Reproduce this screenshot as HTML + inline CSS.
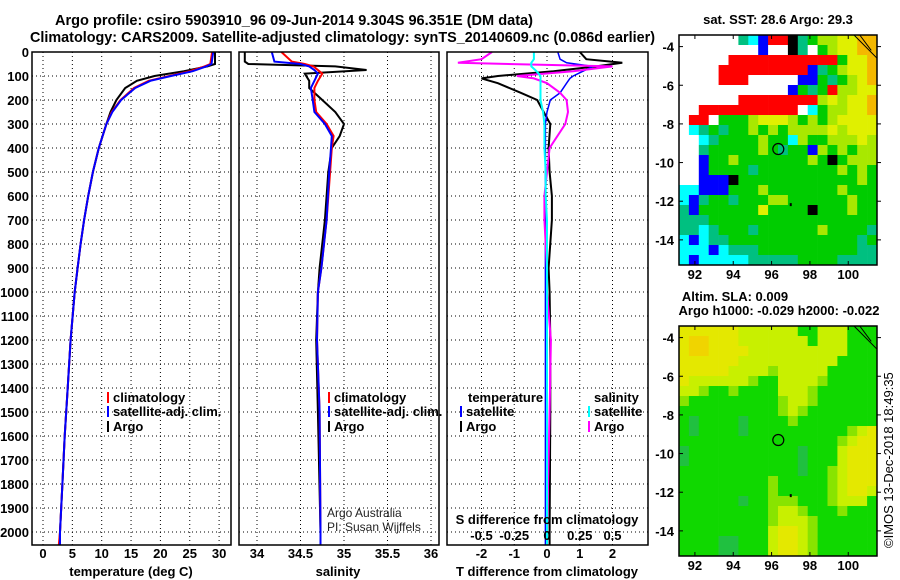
<!DOCTYPE html>
<html><head><meta charset="utf-8"><style>
html,body{margin:0;padding:0;background:#fff;}
svg{display:block;font-family:"Liberation Sans",sans-serif;}
.b{font-weight:bold;font-size:13px;}
</style></head><body>
<svg id="s" width="900" height="580" viewBox="0 0 900 580" xmlns="http://www.w3.org/2000/svg">
<text x="55" y="25" font-size="15" font-weight="bold" textLength="478" lengthAdjust="spacingAndGlyphs">Argo profile: csiro 5903910_96 09-Jun-2014 9.304S 96.351E (DM data)</text>
<text x="30" y="42" font-size="15" font-weight="bold" textLength="625" lengthAdjust="spacingAndGlyphs">Climatology: CARS2009. Satellite-adjusted climatology: synTS_20140609.nc (0.086d earlier)</text>
<text x="778" y="24" class="b" text-anchor="middle">sat. SST: 28.6 Argo: 29.3</text>
<text x="735" y="301" class="b" text-anchor="middle">Altim. SLA: 0.009</text>
<text x="779" y="315" class="b" text-anchor="middle">Argo h1000: -0.029 h2000: -0.022</text>
<text transform="translate(893,548) rotate(-90)" font-size="13">©IMOS 13-Dec-2018 18:49:35</text>
<g id="g"></g>
</svg>
<script>
// depth levels (dbar)
const depthsT=[0,50,60,80,100,120,150,200,250,300,400,500,600,700,800,900,1000,1200,1400,1600,1800,2000,2055];
const argoTemp=[29.3,29.3,28,24,19,16,14,12.5,11.5,10.8,9.5,8.5,7.7,7,6.4,5.9,5.4,4.7,4.2,3.7,3.3,2.9,2.8];
const climTemp=[28.8,28.5,27.5,25,21.5,18,15.5,13.2,11.7,10.8,9.5,8.5,7.7,7,6.4,5.9,5.4,4.7,4.2,3.7,3.3,2.9,2.7];
const satTemp=[29.0,28.7,27.8,25.5,21.8,18.3,15.7,13.3,11.8,10.8,9.5,8.5,7.7,7,6.4,5.9,5.4,4.7,4.2,3.7,3.3,2.9,2.9];
const depthsS=[0,40,50,60,75,90,120,150,200,250,300,350,400,500,700,900,1000,1200,1500,2000,2055];
const argoSal=[33.86,33.86,33.9,34.9,35.26,34.55,34.6,34.6,34.75,34.9,35.0,34.95,34.86,34.82,34.78,34.72,34.7,34.68,34.7,34.73,34.73];
const climSal=[34.28,34.4,34.55,34.65,34.7,34.75,34.7,34.66,34.66,34.68,34.8,34.88,34.86,34.84,34.8,34.74,34.7,34.69,34.72,34.73,34.73];
const satSal=[34.17,34.2,34.5,34.6,34.66,34.7,34.66,34.62,34.64,34.66,34.78,34.86,34.85,34.83,34.8,34.74,34.7,34.69,34.72,34.73,34.73];
const depthsD=[0,30,45,60,80,100,110,130,170,200,250,300,400,500,600,700,900,1000,1200,1500,2000,2055];
const argoTdiff=[1.0,1.2,2.3,1.5,0.2,-1.5,-2.0,-1.5,-0.8,-0.3,-0.1,0.1,0.05,0.08,0.15,0.15,0.05,0.08,0.1,0.1,0.08,0.08];
const satTdiff=[0.33,0.4,0.6,1.4,1.1,0.8,0.7,0.6,0.4,0.1,0.0,-0.05,-0.05,-0.05,-0.05,-0.05,-0.05,-0.05,-0.05,-0.05,-0.05,-0.05];
const argoSdiff=[-0.42,-0.5,-0.68,0.5,0.2,-0.23,-0.1,0.0,0.1,0.15,0.16,0.14,0.02,0.0,-0.02,-0.02,0.0,0.0,0.03,0.02,0.0,0.0];
const satSdiff=[-0.1,-0.1,-0.12,-0.12,-0.08,-0.05,-0.05,-0.05,-0.05,-0.05,-0.03,-0.02,-0.02,-0.01,-0.01,0,0,0,0,0,0,0];
const depthTicks=[0,100,200,300,400,500,600,700,800,900,1000,1100,1200,1300,1400,1500,1600,1700,1800,1900,2000];
const tempTicks=[0,5,10,15,20,25,30];
const salTicks=[34,34.5,35,35.5,36];
const tdTicks=[-2,-1,0,1,2];
const sdTicks=[-0.5,-0.25,0,0.25,0.5];
const sdTickLabels=["-0.5","-0.25","0","0.25","0.5"];
// maps
const lonTicks=[92,94,96,98,100];
const latTicks=[-4,-6,-8,-10,-12,-14];
const argoLon=96.35, argoLat=-9.3;
const sstGrid=[
"WWWWWWTCBRRKTGLLYYOO","WWWWWWWWBWWKTWGLYYOO","WWWWWRRRRRRRRRRRGYYO","WWWWRRRRRRRRRBTGLYYO",
"WWWWRRRWWWWWBBGTGLYO","WWWWWWWWWWWBGTGRLLYY","WWWWWWRRRRRRRRLYLYYO","WWRRRRRRRRRRWCGLLYYO",
"WRRWGGGLYYYLGLGLYYYY","WCTGTGGLGLGLLLLYLYYY","WWCTGGGGLGGCLGGLLLYL","WWTGGGGGLGTGGBLGLGLL",
"WWBGGLGGGGGGGLGKGLLL","WWBGGGGTGGGGGGGGLGLG","WWBBBKGGGGGGGGGGGGLG","CCBBBGGGLGGGGGGGLGGG",
"CBTGGTGGGLLGGGGGGLGG","TBGGGGGGYGGGGKGGGLGG","TTTGGGGGGGGGGGGGGGGG","TTCTGGGTGGGGGGLGGGGT",
"CBCTTGGGGGGGGGGGGGTG","CCCBCTTTGGGGGGGGGGTT","CBCCCCCTTTTTGGGGTTTT"];
const slaGrid=[
"YYYYYYLLLLLLGGLLLGGG","YOOYYYLLLLLLLGLLLGGG","YOOYYYYLLLLLLLLLLGGG","YYYYYYLLLLLLLLLLGGGG",
"YYYYYLLLLlLLLLLGGGGG","YLLLLLLlGGLLLLlGGGGG","LLlGGlGGGGLLLlGGGGGG","lGGGGGGGGGlLLlGGGGGG",
"GGGGGGGGGGlLlGGGGGGG","GDGGGGDGGGGlGGGGGGGG","GDGGGGDGGGGGGGGGGlLY","GGGGGGGGGGGGGGGGlLYY",
"DGGGGGGGGGGGDGGGLYYY","DGGGGGGGGGGGDGGGLYYY","GGGGGGGGGGGGDGGlLYYY","GGGGGGGGGlGGGGGlLYYY",
"GGGGGGGGGlGGGGGlLYYL","GGGGGGDGGlllGGGlLLLG","GGGGGGGGGlLLlGGGlGGG","GGGGGGGGGlLLLlGGGGGG",
"GGGGGGGGGLYYLlGGGGGG","GGGGDDGGGLYYLlGGGGGG","GGGGDDGGGLYYLlGGGGGG"];
const sstColors={W:"#ffffff",T:"#00c080",C:"#00ffff",B:"#0000ff",R:"#ff0000",K:"#000000",G:"#00cc00",L:"#a8e800",Y:"#e0f000",O:"#f4b800"};
const slaColors={Y:"#e4e800",O:"#f0d400",L:"#c8f000",l:"#88e400",G:"#10d800",D:"#20c040"};

const NS="http://www.w3.org/2000/svg";
const G=document.getElementById('g');
function mk(tag,attrs,parent){const e=document.createElementNS(NS,tag);for(const k in attrs)e.setAttribute(k,attrs[k]);(parent||G).appendChild(e);return e;}
const yD=d=>52+d*0.24;
const xT=t=>43+t*5.87;
const xS=s=>257+(s-34)*87;
const xTd=v=>547+v*32.75;
const xSd=v=>547+v*131;
const TOP=52,BOT=545;
const panels=[[32,231,'temperature-panel'],[239,439,'salinity-panel'],[447,648,'difference-panel']];
function grid(x0,x1,xs){
  for(const d of depthTicks){const l=mk('line',{x1:x0,x2:x1,y1:yD(d),y2:yD(d),stroke:'#000','stroke-dasharray':'1,3'});
  
  }
  for(const x of xs){const l=mk('line',{x1:x,x2:x,y1:TOP,y2:BOT,stroke:'#000','stroke-dasharray':'1,3'});
  
  }
}
grid(32,231,tempTicks.map(xT));
grid(239,439,salTicks.map(xS));
grid(447,648,sdTicks.map(xSd));
function line(xs,ds,sx,color,w,name){
  let p=[];for(let i=0;i<xs.length;i++){p.push(sx(xs[i]).toFixed(1)+','+yD(ds[i]).toFixed(1));}
  const e=mk('polyline',{points:p.join(' '),fill:'none',stroke:color,'stroke-width':w});
  
  
}
line(argoTemp,depthsT,xT,'#000',2,'argo-temperature-line');
line(climTemp,depthsT,xT,'#f00',2,'climatology-temperature-line');
line(satTemp,depthsT,xT,'#00f',2,'satellite-temperature-line');
line(argoSal,depthsS,xS,'#000',2,'argo-salinity-line');
line(climSal,depthsS,xS,'#f00',2,'climatology-salinity-line');
line(satSal,depthsS,xS,'#00f',2,'satellite-salinity-line');
line(argoTdiff,depthsD,xTd,'#000',2,'argo-temperature-difference-line');
line(satTdiff,depthsD,xTd,'#00f',1.5,'satellite-temperature-difference-line');
line(argoSdiff,depthsD,xSd,'#f0f',2,'argo-salinity-difference-line');
line(satSdiff,depthsD,xSd,'#0ff',2,'satellite-salinity-difference-line');
for(const p of panels){const r=mk('rect',{x:p[0],y:TOP,width:p[1]-p[0],height:BOT-TOP,fill:'none',stroke:'#000','stroke-width':1.5});

}
function txt(x,y,s,anchor,name,cls){const t=mk('text',{x:x,y:y,'text-anchor':anchor||'start',class:cls===undefined?'b':cls});t.textContent=s;

return t;}
for(const d of depthTicks){txt(29,yD(d)+5,String(d),'end','depth-tick-label');}
for(const t of tempTicks){txt(xT(t),558,String(t),'middle','temperature-tick-label');}
for(const s of salTicks){txt(xS(s),558,String(s),'middle','salinity-tick-label');}
for(const t of tdTicks){txt(xTd(t),558,String(t),'middle','t-difference-tick-label');}
sdTicks.forEach((s,i)=>{txt(xSd(s),540,sdTickLabels[i],'middle','s-difference-tick-label');});
txt(131,576,'temperature (deg C)','middle','temperature-axis-title');
txt(338,576,'salinity','middle','salinity-axis-title');
txt(547,576,'T difference from climatology','middle','t-difference-axis-title');
txt(547,524,'S difference from climatology','middle','s-difference-axis-title');
const at=txt(327,517,'Argo Australia','start','argo-australia-credit','');at.setAttribute('font-size','12');at.setAttribute('fill','#222');
const pi=txt(327,531,'PI: Susan Wijffels','start','pi-credit','');pi.setAttribute('font-size','12');pi.setAttribute('fill','#222');
function leg(x,y,color,label,name){const r=mk('rect',{x:x,y:y-10,width:2,height:11,fill:color});


txt(x+6,y,label,'start',name);}
leg(107,402,'#f00','climatology','legend-climatology');
leg(107,416,'#00f','satellite-adj. clim.','legend-satellite-adj');
leg(107,431,'#000','Argo','legend-argo');
leg(328,402,'#f00','climatology','legend-sal-climatology');
leg(328,416,'#00f','satellite-adj. clim.','legend-sal-satellite-adj');
leg(328,431,'#000','Argo','legend-sal-argo');
txt(468,402,'temperature','start','legend-temperature-heading');
leg(460,416,'#00f','satellite','legend-t-satellite');
leg(460,431,'#000','Argo','legend-t-argo');
txt(594,402,'salinity','start','legend-salinity-heading');
leg(588,416,'#0ff','satellite','legend-s-satellite');
leg(588,431,'#f0f','Argo','legend-s-argo');

// maps
const LON0=91.17,LON1=101.5,LAT0=-3.4,LAT1=-15.3;
function drawMap(x0,y0,w,h,gridRows,colors,name){
  const mx=lon=>x0+(lon-LON0)/(LON1-LON0)*w;
  const my=lat=>y0+(lat-LAT0)/(LAT1-LAT0)*h;
  const nr=gridRows.length,nc=gridRows[0].length,cw=w/nc,ch=h/nr;
  for(let r=0;r<nr;r++)for(let c=0;c<nc;c++){
    const cell=mk('rect',{x:(x0+c*cw).toFixed(2),y:(y0+r*ch).toFixed(2),width:(cw+0.3).toFixed(2),height:(ch+0.3).toFixed(2),fill:colors[gridRows[r][c]]});
    
    
  }
  const coast=mk('path',{d:`M${mx(100.3)},${y0} L${mx(101.5)},${my(-4.6)} M${mx(100.6)},${y0} L${mx(101.2)},${my(-4.2)}`,stroke:'#000',fill:'none','stroke-width':1});
  
  
  const c=mk('circle',{cx:mx(argoLon),cy:my(argoLat),r:5.5,fill:'none',stroke:'#000','stroke-width':1.2});
  
  
  const dot=mk('rect',{x:mx(97)-1,y:my(-12.15)-1,width:2,height:3,fill:'#000'});
  
  
  const b=mk('rect',{x:x0,y:y0,width:w,height:h,fill:'none',stroke:'#000','stroke-width':1.5});
  
  
  for(const lon of lonTicks){const x=mx(lon);
    const t1=mk('line',{x1:x,x2:x,y1:y0+h,y2:y0+h-4,stroke:'#000'});
    
    
    const t2=mk('line',{x1:x,x2:x,y1:y0,y2:y0+4,stroke:'#000'});
    
    
    txt(x,y0+h+14,String(lon),'middle',name+'-lon-label');}
  for(const lat of latTicks){const y=my(lat);
    const t1=mk('line',{x1:x0,x2:x0+4,y1:y,y2:y,stroke:'#000'});
    
    
    const t2=mk('line',{x1:x0+w,x2:x0+w+4,y1:y,y2:y,stroke:'#000'});
    
    
    txt(x0-5,y+5,String(lat),'end',name+'-lat-label');}
}
drawMap(679,35,198,230,sstGrid,sstColors,'sst-map');
drawMap(679,326,198,230,slaGrid,slaColors,'sla-map');
</script>
</body></html>
